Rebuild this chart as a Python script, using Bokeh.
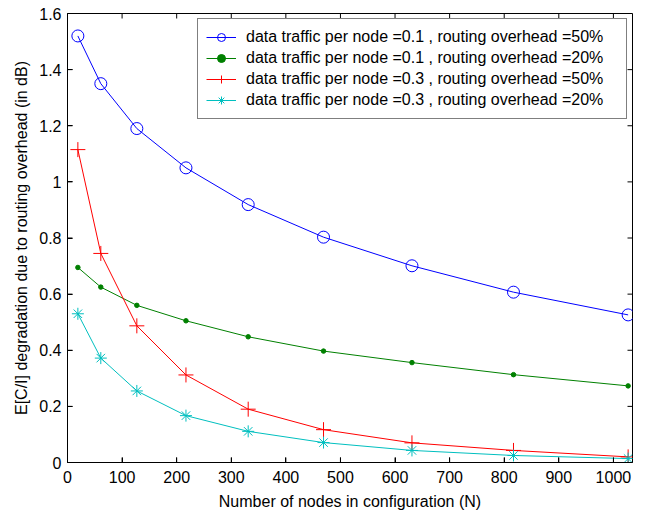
from bokeh.plotting import figure
from bokeh.models import Range1d, FixedTicker
from bokeh.embed import file_html
from bokeh.resources import INLINE

# Data
nodes = [19, 61, 127, 217, 331, 469, 631, 817, 1027]
blue_01_50 = [1.52, 1.35, 1.19, 1.05, 0.919, 0.803, 0.701, 0.607, 0.526]
green_01_20 = [0.695, 0.625, 0.560, 0.505, 0.448, 0.397, 0.356, 0.313, 0.273]
red_03_50 = [1.115, 0.745, 0.487, 0.312, 0.190, 0.117, 0.070, 0.043, 0.020]
cyan_03_20 = [0.530, 0.372, 0.255, 0.167, 0.111, 0.071, 0.043, 0.025, 0.014]

labels = [
    "data traffic per node =0.1 , routing overhead =50%",
    "data traffic per node =0.1 , routing overhead =20%",
    "data traffic per node =0.3 , routing overhead =50%",
    "data traffic per node =0.3 , routing overhead =20%",
]
x_ticks = [0, 100, 200, 300, 400, 500, 600, 700, 800, 900, 1000]
y_ticks = [0, 0.2, 0.4, 0.6, 0.8, 1.0, 1.2, 1.4, 1.6]
y_tick_labels = ["0", "0.2", "0.4", "0.6", "0.8", "1", "1.2", "1.4", "1.6"]
x_lim = (0, 1035)
y_lim = (0, 1.6)

FONT = "Liberation Sans"
FS = "16px"
FRAME_W, FRAME_H, TICK_PX = 565, 449, 5

p = figure(frame_width=FRAME_W, frame_height=FRAME_H,
           x_range=Range1d(*x_lim), y_range=Range1d(*y_lim),
           output_backend="svg", toolbar_location=None,
           min_border_left=67, min_border_right=16,
           min_border_top=13, min_border_bottom=53)
p.background_fill_color = "white"
p.border_fill_color = "white"
p.outline_line_color = "black"
p.outline_line_width = 1
p.xgrid.visible = False
p.ygrid.visible = False

def style_axis(ax):
    ax.major_tick_in = TICK_PX
    ax.major_tick_out = 0
    ax.minor_tick_in = 0
    ax.minor_tick_out = 0
    ax.axis_line_color = "black"
    ax.major_tick_line_color = "black"
    ax.major_label_text_font = FONT
    ax.major_label_text_font_size = FS
    ax.major_label_text_color = "black"
    ax.axis_label_text_font = FONT
    ax.axis_label_text_font_size = FS
    ax.axis_label_text_font_style = "normal"
    ax.axis_label_text_color = "black"

xa = p.xaxis[0]
xa.ticker = FixedTicker(ticks=x_ticks)
xa.axis_label = "Number of nodes in configuration (N)"
style_axis(xa)
xa.major_label_standoff = 8
xa.axis_label_standoff = 7

ya = p.yaxis[0]
ya.ticker = FixedTicker(ticks=y_ticks)
ya.major_label_overrides = {t: l for t, l in zip(y_ticks, y_tick_labels)}
ya.axis_label = "E[C/I] degradation due to routing overhead (in dB)"
style_axis(ya)
ya.major_label_standoff = 6
ya.axis_label_standoff = 6

# inward tick marks on all four edges (box style), length TICK_PX screen pixels
dy = (y_lim[1] - y_lim[0]) * TICK_PX / FRAME_H
dx = (x_lim[1] - x_lim[0]) * TICK_PX / FRAME_W
nx, ny = len(x_ticks), len(y_ticks)
p.segment(x0=x_ticks, y0=[y_lim[1]] * nx, x1=x_ticks, y1=[y_lim[1] - dy] * nx,
          line_color="black", line_width=1)
p.segment(x0=x_ticks, y0=[y_lim[0]] * nx, x1=x_ticks, y1=[y_lim[0] + dy] * nx,
          line_color="black", line_width=1)
p.segment(x0=[x_lim[1]] * ny, y0=y_ticks, x1=[x_lim[1] - dx] * ny, y1=y_ticks,
          line_color="black", line_width=1)
p.segment(x0=[x_lim[0]] * ny, y0=y_ticks, x1=[x_lim[0] + dx] * ny, y1=y_ticks,
          line_color="black", line_width=1)

blue, green, red, cyan = "#0000ff", "#008000", "#ff0000", "#00bfbf"

p.line(nodes, blue_01_50, line_color=blue, line_width=1, legend_label=labels[0])
p.scatter(nodes, blue_01_50, marker="circle", size=12, fill_color=None,
          line_color=blue, line_width=1, legend_label=labels[0])

p.line(nodes, green_01_20, line_color=green, line_width=1, legend_label=labels[1])
p.scatter(nodes, green_01_20, marker="circle", size=4.5, fill_color=green,
          line_color=green, legend_label=labels[1])

p.line(nodes, red_03_50, line_color=red, line_width=1, legend_label=labels[2])
p.scatter(nodes, red_03_50, marker="cross", size=15, fill_color=None,
          line_color=red, line_width=1, legend_label=labels[2])

p.line(nodes, cyan_03_20, line_color=cyan, line_width=1, legend_label=labels[3])
p.scatter(nodes, cyan_03_20, marker="asterisk", size=12, fill_color=None,
          line_color=cyan, line_width=1, legend_label=labels[3])

lg = p.legend[0]
lg.location = "top_right"
lg.margin = 5
lg.padding = 8
lg.spacing = 1
lg.label_height = 20
lg.label_width = 372
lg.glyph_height = 20
lg.glyph_width = 30
lg.label_standoff = 10
lg.label_text_font = FONT
lg.label_text_font_size = FS
lg.label_text_color = "black"
lg.border_line_color = "black"
lg.border_line_width = 1
lg.background_fill_color = "white"
lg.background_fill_alpha = 1.0

open("out.html", "w").write(file_html(p, INLINE))
